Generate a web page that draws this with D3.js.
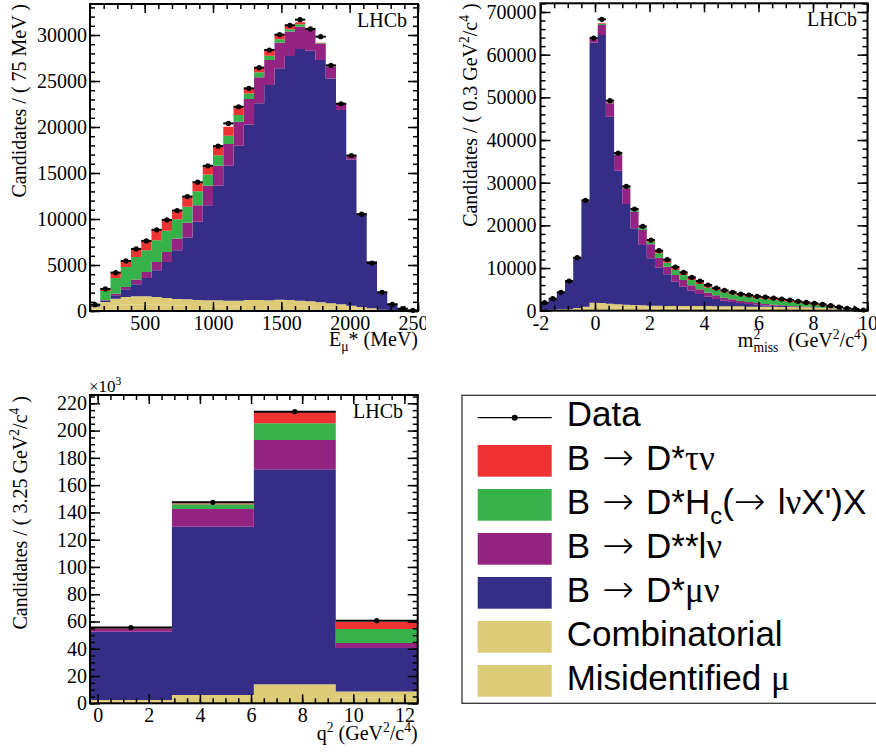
<!DOCTYPE html>
<html><head><meta charset="utf-8">
<script src="https://cdn.jsdelivr.net/npm/d3@7"></script>
<style>body{margin:0;background:#fff}svg{display:block}text{white-space:pre}</style>
</head><body>
<svg id="c" width="876" height="754"></svg>
<script>
// ---------- Panel 1 : E_mu* (bins of 75 MeV from 100 to 2500) ----------
const eStart = 100, eWidth = 75, eBins = 32;
const eData  = [690,2400,4170,5440,6750,7620,8820,9900,10920,12440,14000,15780,17920,20390,22200,24200,26450,28370,30040,31060,31670,30660,29820,26700,22530,16900,10520,5220,2030,730,250,70];
const eMisid = [195,440,600,680,720,720,680,635,585,570,540,520,520,505,505,540,540,520,555,540,505,470,425,375,325,260,195,130,65,35,15,5];
const eComb  = [240,540,740,840,880,880,840,780,720,700,660,640,640,620,620,660,660,640,680,660,620,580,520,460,400,320,240,160,80,40,20,5];
const eDmu   = [85,110,365,835,1305,2000,2900,3920,5300,6710,8490,10340,12445,14660,16835,19085,21370,23400,25140,26520,27355,27245,26340,24450,21115,15890,10160,5115,1920,725,220,63];
const eDss   = [20,70,180,255,510,650,910,1090,1270,1600,1810,2105,2175,2360,2610,2755,2830,2720,2795,2650,2430,2250,1740,1270,655,365,25,20,10,0,0,0];
const eDhc   = [110,1020,1705,2175,2465,2360,2360,2285,2105,1740,1525,1235,1160,905,725,615,545,470,365,255,255,70,75,75,35,35,5,10,5,0,0,0];
const eDtau  = [30,220,580,655,870,1015,1125,1090,870,1090,945,835,910,980,835,470,510,620,510,360,215,40,70,35,35,35,5,5,0,0,0,0];
const eXTicks = [500,1000,1500,2000,2500];
const eYTicks = [0,5000,10000,15000,20000,25000,30000];

// ---------- Panel 2 : m2_miss (bins of 0.3 GeV^2 from -2 to 10) ----------
const mStart = -2, mWidth = 0.3, mBins = 40;
const mData  = [1875,2810,4300,6950,12420,25860,63900,68290,49220,36950,29140,23830,19770,16560,14060,11950,10230,8980,7810,6950,6020,5310,4770,4300,3900,3670,3360,3200,2970,2730,2500,2190,1950,1720,1480,1170,860,550,390,160];
const mMisid = [76,114,153,191,305,458,915,877,800,724,686,648,610,572,572,534,534,534,534,534,534,496,496,496,496,458,458,458,458,419,419,381,381,343,305,267,229,191,114,38];
const mComb  = [80,120,160,200,320,480,960,920,840,760,720,680,640,600,600,560,560,560,560,560,560,520,520,520,520,480,480,480,480,440,440,400,400,360,320,280,240,200,120,40];
const mDmu   = [1720,2500,3900,6400,11640,24530,60940,62810,43830,31330,23590,17970,14140,11095,8905,7420,5700,4530,3595,2810,2185,1720,1330,1015,780,625,470,310,235,235,80,80,40,40,40,30,20,10,5,0];
const mDss   = [0,60,50,80,100,235,860,2345,3125,3670,3675,3905,3515,3280,2345,1800,1565,1565,1250,1095,1015,860,700,625,470,470,390,315,235,155,155,155,115,40,40,50,60,0,0,0];
const mDhc   = [0,0,0,0,0,50,50,235,155,235,390,470,545,625,1015,940,1170,1170,1250,1250,1170,1250,1250,1170,1250,1170,1095,1170,1095,1015,940,780,625,545,390,235,80,70,75,78];
const mDtau  = [0,0,0,0,0,50,30,160,150,80,155,235,235,390,545,470,545,545,545,545,470,390,390,390,390,390,390,390,390,390,390,315,315,315,315,235,155,80,80,0];
const mXTicks = [-2,0,2,4,6,8,10];
const mYTicks = [0,10000,20000,30000,40000,50000,60000,70000];

// ---------- Panel 3 : q2 (4 bins) ----------
const qEdges = [-0.3,2.905,6.11,9.315,12.52];
const qData  = [55500,147400,213900,60600];
const qMisid = [1200,3100,6900,4300];
const qComb  = [1200,3000,7000,4300];
const qDmu   = [50100,123400,157700,32000];
const qDss   = [2300,13000,21500,3600];
const qDhc   = [300,3400,12200,10300];
const qDtau  = [300,700,8100,5100];
const qXTicks = [0,2,4,6,8,10,12];
const qYTicks = [0,20000,40000,60000,80000,100000,120000,140000,160000,180000,200000,220000];

// ---------- Legend ----------
const legendLabels = ["Data","B → D*τν","B → D*Hc(→ lνX')X","B → D**lν","B → D*μν","Combinatorial","Misidentified μ"];

const KEYS = ["misid","comb","dmu","dss","dhc","dtau"];
const COLORS = {misid:"#decb77", comb:"#decb77", dmu:"#362e86", dss:"#952382", dhc:"#37b24a", dtau:"#ef3333"};
const SERIF = "Liberation Serif, DejaVu Serif, serif";
const SANS = "Liberation Sans, Arial, sans-serif";
const ARROWF = "DejaVu Sans, sans-serif";

const svg = d3.select("#c");
svg.append("defs").append("clipPath").attr("id","clipL")
  .append("rect").attr("x",0).attr("y",0).attr("width",426).attr("height",370);

function richText(sel, segs, fs) {
  let cur = 0;
  segs.forEach(s => {
    const small = s.sup || s.sub;
    const target = s.sup ? -0.4*fs : (s.sub ? 0.28*fs : 0);
    const ts = sel.append("tspan").text(s.t).attr("font-size", s.fs ? s.fs : (small ? fs*0.68 : fs));
    if (target - cur !== 0) ts.attr("dy", target - cur);
    if (s.dx) ts.attr("dx", s.dx);
    if (s.f) ts.attr("font-family", s.f);
    if (s.w) ts.attr("font-weight", s.w);
    cur = target;
  });
}

function panel(cfg) {
  const g = svg.append("g");
  if (cfg.clip) g.attr("clip-path", "url(#clipL)");
  const x = d3.scaleLinear().domain(cfg.xDomain).range([cfg.fx0, cfg.fx1]);
  const y = d3.scaleLinear().domain(cfg.yDomain).range([cfg.fy1, cfg.fy0]);
  const edges = cfg.edges;
  const n = cfg.data.length;
  const rows = d3.range(n).map(i => {
    const r = {i};
    KEYS.forEach(k => r[k] = cfg.comps[k][i]);
    return r;
  });
  const stacked = d3.stack().keys(KEYS)(rows);
  const area = d3.area().curve(d3.curveStepAfter)
    .x(p => x(p.x)).y0(p => y(p.y0)).y1(p => y(p.y1));
  stacked.forEach(layer => {
    const pts = layer.map((d, i) => ({x: edges[i], y0: d[0], y1: d[1]}));
    const last = layer[n-1];
    pts.push({x: edges[n], y0: last[0], y1: last[1]});
    g.append("path").attr("d", area(pts)).attr("fill", COLORS[layer.key]).attr("stroke","none");
  });
  // data points
  const dg = g.append("g").attr("stroke","#000");
  cfg.data.forEach((v, i) => {
    const xc = x((edges[i] + edges[i+1]) / 2);
    const e = Math.sqrt(v);
    dg.append("line").attr("x1", x(edges[i])).attr("x2", x(edges[i+1]))
      .attr("y1", y(v)).attr("y2", y(v)).attr("stroke-width", 2);
    dg.append("line").attr("x1", xc).attr("x2", xc)
      .attr("y1", y(v - e)).attr("y2", y(v + e)).attr("stroke-width", 1.5);
    dg.append("circle").attr("cx", xc).attr("cy", y(v)).attr("r", 2.6).attr("fill","#000").attr("stroke","none");
  });
  // axes
  const axStyle = s => {
    s.attr("font-family", SERIF).attr("font-size", 20).attr("color", "#000");
    s.select(".domain").remove();
    s.selectAll(".tick line").attr("stroke-width", 1.5);
  };
  const xMinor = d3.range(cfg.xMinorStart, cfg.xDomain[1] + 1e-9, cfg.xMinorStep);
  const yMinor = d3.range(0, cfg.yDomain[1] + 1e-9, cfg.yMinorStep);
  // bottom
  g.append("g").attr("transform", `translate(0,${cfg.fy1})`)
    .call(d3.axisBottom(x).tickValues(xMinor).tickSize(-5).tickFormat("")).call(axStyle);
  g.append("g").attr("transform", `translate(0,${cfg.fy1})`)
    .call(d3.axisBottom(x).tickValues(cfg.xTicks).tickSize(-9).tickFormat(cfg.xFmt)).call(axStyle)
    .call(s => s.selectAll("text").attr("y", cfg.xLabelOff).attr("dy", null));
  // top
  g.append("g").attr("transform", `translate(0,${cfg.fy0})`)
    .call(d3.axisTop(x).tickValues(xMinor).tickSize(-5).tickFormat("")).call(axStyle);
  g.append("g").attr("transform", `translate(0,${cfg.fy0})`)
    .call(d3.axisTop(x).tickValues(cfg.xTicks).tickSize(-9).tickFormat("")).call(axStyle);
  // left
  g.append("g").attr("transform", `translate(${cfg.fx0},0)`)
    .call(d3.axisLeft(y).tickValues(yMinor).tickSize(-5).tickFormat("")).call(axStyle);
  g.append("g").attr("transform", `translate(${cfg.fx0},0)`)
    .call(d3.axisLeft(y).tickValues(cfg.yTicks).tickSize(-10).tickPadding(cfg.yPad).tickFormat(cfg.yFmt)).call(axStyle);
  // right
  g.append("g").attr("transform", `translate(${cfg.fx1},0)`)
    .call(d3.axisRight(y).tickValues(yMinor).tickSize(-5).tickFormat("")).call(axStyle);
  g.append("g").attr("transform", `translate(${cfg.fx1},0)`)
    .call(d3.axisRight(y).tickValues(cfg.yTicks).tickSize(-10).tickFormat("")).call(axStyle);
  // frame
  g.append("rect").attr("x", cfg.fx0).attr("y", cfg.fy0)
    .attr("width", cfg.fx1 - cfg.fx0).attr("height", cfg.fy1 - cfg.fy0)
    .attr("fill","none").attr("stroke","#000").attr("stroke-width", 2);
  // titles
  const yt = g.append("text").attr("font-family", SERIF).attr("text-anchor","end")
    .attr("transform", `translate(${cfg.yTitleX},${cfg.fy0 + cfg.yTitleOff}) rotate(-90)`);
  richText(yt, cfg.yTitle, 20);
  const xt = g.append("text").attr("font-family", SERIF).attr("text-anchor","end")
    .attr("x", cfg.fx1).attr("y", cfg.xTitleY);
  richText(xt, cfg.xTitle, 20);
  g.append("text").attr("font-family", SERIF).attr("font-size", 20).attr("text-anchor","end")
    .attr("x", cfg.lhcb[0]).attr("y", cfg.lhcb[1]).text("LHCb");
  return g;
}

const fmtPlain = v => String(v);

panel({
  fx0: 90, fx1: 418, fy0: 4, fy1: 311, clip: true,
  xDomain: [eStart, eStart + eWidth*eBins], yDomain: [0, 33370],
  edges: d3.range(eBins + 1).map(i => eStart + eWidth*i),
  data: eData,
  comps: {misid: eMisid, comb: eComb, dmu: eDmu, dss: eDss, dhc: eDhc, dtau: eDtau},
  xTicks: eXTicks, xMinorStart: 100, xMinorStep: 100, xFmt: fmtPlain, xLabelOff: 19,
  yTicks: eYTicks, yMinorStep: 1000, yFmt: fmtPlain, yPad: 3,
  yTitleX: 26, yTitleOff: 0,
  yTitle: [{t:"Candidates / ( 75 MeV )"}],
  xTitleY: 345.5,
  xTitle: [{t:"E"},{t:"μ", sub:1},{t:"* (MeV)"}],
  lhcb: [407, 27]
});

panel({
  fx0: 540.5, fx1: 867.5, fy0: 3.3, fy1: 310.7,
  xDomain: [mStart, mStart + mWidth*mBins], yDomain: [0, 72040],
  edges: d3.range(mBins + 1).map(i => mStart + mWidth*i),
  data: mData,
  comps: {misid: mMisid, comb: mComb, dmu: mDmu, dss: mDss, dhc: mDhc, dtau: mDtau},
  xTicks: mXTicks, xMinorStart: -2, xMinorStep: 0.5, xFmt: fmtPlain, xLabelOff: 19.3,
  yTicks: mYTicks, yMinorStep: 2000, yFmt: fmtPlain, yPad: 4,
  yTitleX: 477, yTitleOff: 0,
  yTitle: [{t:"Candidates / ( 0.3 GeV"},{t:"2",sup:1},{t:"/c"},{t:"4",sup:1},{t:" )"}],
  xTitleY: 346.5,
  xTitle: [{t:"m"},{t:"2",sup:1},{t:"miss",sub:1,dx:-6.8},{t:"\u00a0 (GeV"},{t:"2",sup:1},{t:"/c"},{t:"4",sup:1},{t:")"}],
  lhcb: [857, 26]
});

panel({
  fx0: 90, fx1: 417.7, fy0: 395, fy1: 703.3,
  xDomain: [qEdges[0], qEdges[qEdges.length-1]], yDomain: [0, 226100],
  edges: qEdges,
  data: qData,
  comps: {misid: qMisid, comb: qComb, dmu: qDmu, dss: qDss, dhc: qDhc, dtau: qDtau},
  xTicks: qXTicks, xMinorStart: 0, xMinorStep: 0.5, xFmt: fmtPlain, xLabelOff: 18.4,
  yTicks: qYTicks, yMinorStep: 5000, yFmt: v => String(v/1000), yPad: 3,
  yTitleX: 27, yTitleOff: 1,
  yTitle: [{t:"Candidates / ( 3.25 GeV"},{t:"2",sup:1},{t:"/c"},{t:"4",sup:1},{t:" )"}],
  xTitleY: 740,
  xTitle: [{t:"q"},{t:"2",sup:1},{t:" (GeV"},{t:"2",sup:1},{t:"/c"},{t:"4",sup:1},{t:")"}],
  lhcb: [403, 418]
});

// x10^3 multiplier
const mult = svg.append("text").attr("font-family", SERIF).attr("x", 89).attr("y", 392);
richText(mult, [{t:"×10"},{t:"3",sup:1}], 17);

// ---------- Legend ----------
const lg = svg.append("g");
lg.append("rect").attr("x", 462).attr("y", 395.3).attr("width", 440).attr("height", 308)
  .attr("fill","#fff").attr("stroke","#333").attr("stroke-width", 1.3);
const ARR = {t:" → ", f:ARROWF, fs:38, w:200};
const legendSegs = [
  [{t:legendLabels[0]}],
  [{t:"B"}, ARR, {t:"D*"},{t:"τν", f:SERIF}],
  [{t:"B"}, ARR, {t:"D*H"},{t:"c", sub:1},{t:"("},{t:"→ ", f:ARROWF, fs:38, w:200},{t:"l"},{t:"ν", f:SERIF},{t:"X')X"}],
  [{t:"B"}, ARR, {t:"D**l"},{t:"ν", f:SERIF}],
  [{t:"B"}, ARR, {t:"D*"},{t:"μν", f:SERIF}],
  [{t:legendLabels[5]}],
  [{t:"Misidentified "},{t:"μ", f:SERIF}]
];
const legendKeys = [null, "dtau", "dhc", "dss", "dmu", "comb", "misid"];
legendSegs.forEach((segs, i) => {
  const base = 425.7 + 44*i;
  if (i === 0) {
    lg.append("line").attr("x1", 477.7).attr("x2", 551.7).attr("y1", base - 8).attr("y2", base - 8)
      .attr("stroke","#000").attr("stroke-width", 1.3);
    lg.append("circle").attr("cx", 514.7).attr("cy", base - 8).attr("r", 3).attr("fill","#000");
  } else {
    lg.append("rect").attr("x", 477.7).attr("y", base - 24.7).attr("width", 74).attr("height", 31.7)
      .attr("fill", COLORS[legendKeys[i]]);
  }
  const t = lg.append("text").attr("font-family", SANS).attr("x", 566.7).attr("y", base);
  richText(t, segs, 35);
});
</script>
</body></html>
